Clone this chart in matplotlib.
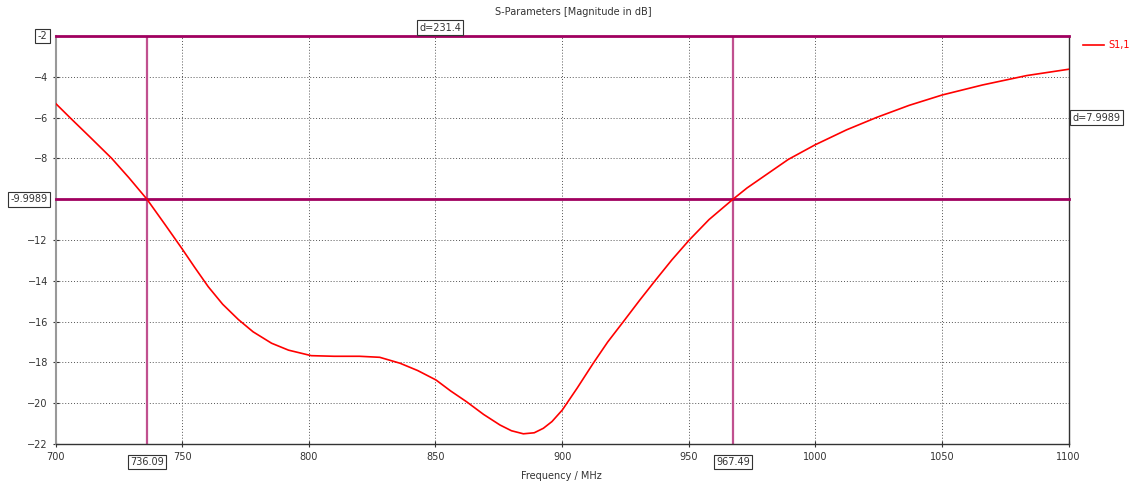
import matplotlib
matplotlib.use("Agg")
import matplotlib.pyplot as plt

# Data
freq_mhz = [700, 705.7, 714, 722.2, 729, 736.09, 743, 749.8, 755, 760.3, 766, 772.2,
            778, 785.3, 792, 801, 810, 820, 828, 836, 843, 850.2, 856, 862.3, 869,
            875.5, 880, 884.7, 889, 892.6, 896, 900.1, 906, 912.3, 918, 924.2, 930.7,
            937, 943.3, 950.2, 958, 967.49, 973, 979.4, 989.3, 999.8, 1012.3, 1024.2,
            1037, 1050.1, 1066, 1083.4, 1100]
s11_db = [-5.3, -6.0, -7.0, -8.0, -8.95, -9.9989, -11.2, -12.4, -13.35, -14.29, -15.15, -15.9,
          -16.5, -17.06, -17.4, -17.67, -17.7, -17.7, -17.75, -18.04, -18.4, -18.86, -19.4, -19.93, -20.55,
          -21.07, -21.35, -21.5, -21.45, -21.23, -20.9, -20.33, -19.25, -18.04, -17.0, -16.0, -14.94,
          -13.95, -12.98, -12.0, -11.0, -9.9989, -9.45, -8.9, -8.05, -7.34, -6.6, -5.99,
          -5.4, -4.89, -4.4, -3.94, -3.63]
x_ticks = [700, 750, 800, 850, 900, 950, 1000, 1050, 1100]
y_ticks = [-22, -20, -18, -16, -14, -12, -8, -6, -4]
marker_x = [736.09, 967.49]
marker_y = [-2, -9.9989]
x_label_text = ["736.09", "967.49"]
y_label_text = ["-2", "-9.9989"]
dx_text = "d=231.4"
dy_text = "d=7.9989"

plt.rcParams['font.family'] = ['DejaVu Sans']
fig = plt.figure(figsize=(11.38, 4.84), dpi=100)
ax = fig.add_axes([55.5/1138, 1-444/484, (1068.7-55.5)/1138, (444-36)/484])

ax.set_xlim(700, 1100)
ax.set_ylim(-22, -2)
ax.set_xticks(x_ticks)
ax.set_yticks(y_ticks)
ax.tick_params(labelsize=7, colors='#333333', direction='inout', length=4, width=0.8)
ax.grid(True, color='#555555', linestyle=(0, (1.0, 2.0)), linewidth=0.7)

ax.spines['left'].set_color('#999999'); ax.spines['left'].set_linewidth(1.5)
for s in ['bottom', 'right']:
    ax.spines[s].set_color('#333333'); ax.spines[s].set_linewidth(1.0)
ax.spines['top'].set_visible(False)

ln, = ax.plot(freq_mhz, s11_db, color='#ff0000', linewidth=1.2, label='S1,1', zorder=3)

# markers
for mx in marker_x:
    ax.axvline(mx, color='#c0508f', linewidth=1.6, zorder=2.5)
for my in marker_y:
    ax.axhline(my, color='#a0005f', linewidth=2.0, zorder=2.6, clip_on=False)

box = dict(boxstyle='square,pad=0.25', fc='white', ec='#333333', lw=0.8)
for mx, t in zip(marker_x, x_label_text):
    ax.annotate(t, xy=(mx, 0), xycoords=('data', 'axes fraction'),
                xytext=(0, -13), textcoords='offset points',
                ha='center', va='center', fontsize=7, color='#333333', bbox=box)
for my, t in zip(marker_y, y_label_text):
    ax.annotate(t, xy=(0, my), xycoords=('axes fraction', 'data'),
                xytext=(-6, 0), textcoords='offset points',
                ha='right', va='center', fontsize=7, color='#333333', bbox=box)
ax.annotate(dx_text, xy=((marker_x[0]+marker_x[1])/2, 1), xycoords=('data', 'axes fraction'),
            xytext=(0, 6), textcoords='offset points',
            ha='center', va='center', fontsize=7, color='#333333', bbox=box)
ax.annotate(dy_text, xy=(1, (marker_y[0]+marker_y[1])/2), xycoords=('axes fraction', 'data'),
            xytext=(3, 0), textcoords='offset points',
            ha='left', va='center', fontsize=7, color='#333333', bbox=box)

fig.text(573/1138, 1-12/484, 'S-Parameters [Magnitude in dB]', ha='center', va='center',
         fontsize=7, color='#333333')
fig.text(561/1138, 1-476/484, 'Frequency / MHz', ha='center', va='center',
         fontsize=7, color='#333333')

# legend
fig.legend(handles=[ln], labels=['S1,1'], loc='center left',
           bbox_to_anchor=(1074/1138, 1-45/484), frameon=False, fontsize=7,
           handlelength=2.2, handletextpad=0.4, labelcolor='#ff0000')

fig.savefig('out.png', dpi=100)
